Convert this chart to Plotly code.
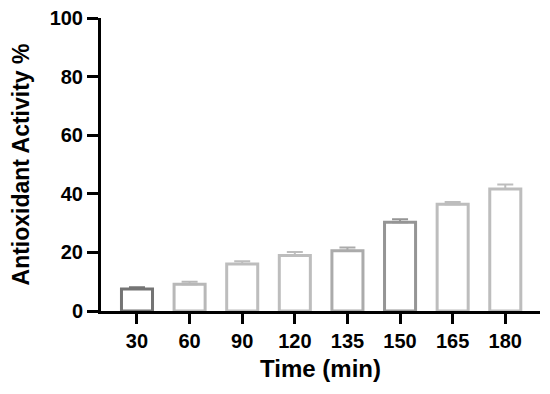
import plotly.graph_objects as go

categories = ["30", "60", "90", "120", "135", "150", "165", "180"]
values = [7.5, 9.1, 16.0, 18.9, 20.6, 30.3, 36.4, 41.6]
errors = [0.6, 0.9, 1.0, 1.2, 1.1, 1.0, 0.8, 1.6]
outline_colors = ["#747474", "#b8b8b8", "#bdbdbd", "#bdbdbd", "#ababab", "#959595", "#bdbdbd", "#bdbdbd"]
y_ticks = [0, 20, 40, 60, 80, 100]

fig = go.Figure()
for c, v, e, col in zip(categories, values, errors, outline_colors):
    fig.add_trace(go.Bar(
        x=[c], y=[v],
        width=0.59,
        marker=dict(color="white", line=dict(color=col, width=3)),
        error_y=dict(type="data", array=[e], arrayminus=[0], symmetric=False,
                     color=col, thickness=2, width=8),
        showlegend=False,
    ))

font_family = "Liberation Sans, Arial, sans-serif"
fig.update_layout(
    width=550, height=394,
    margin=dict(l=93, r=18, t=10, b=91),
    plot_bgcolor="white", paper_bgcolor="white",
    font=dict(family=font_family, color="black"),
    xaxis=dict(
        type="category", categoryorder="array", categoryarray=categories,
        range=[-0.684, 7.66],
        showline=True, linecolor="black", linewidth=3,
        ticks="outside", ticklen=10, tickwidth=3, tickcolor="black",
        tickfont=dict(size=20, family=font_family, weight="bold"),
        showgrid=False, zeroline=False, automargin=False,
        title=dict(text="<b>Time (min)</b>", font=dict(size=24), standoff=10),
    ),
    yaxis=dict(
        range=[0, 100], tickvals=y_ticks,
        showline=True, linecolor="black", linewidth=3,
        ticks="outside", ticklen=11, tickwidth=3, tickcolor="black",
        tickfont=dict(size=20, family=font_family, weight="bold"),
        ticklabeloverflow="allow",
        showgrid=False, zeroline=False, automargin=False,
        title=dict(text="<b>Antioxidant Activity %</b>", font=dict(size=23), standoff=14),
    ),
)

fig.write_html("out.html")
